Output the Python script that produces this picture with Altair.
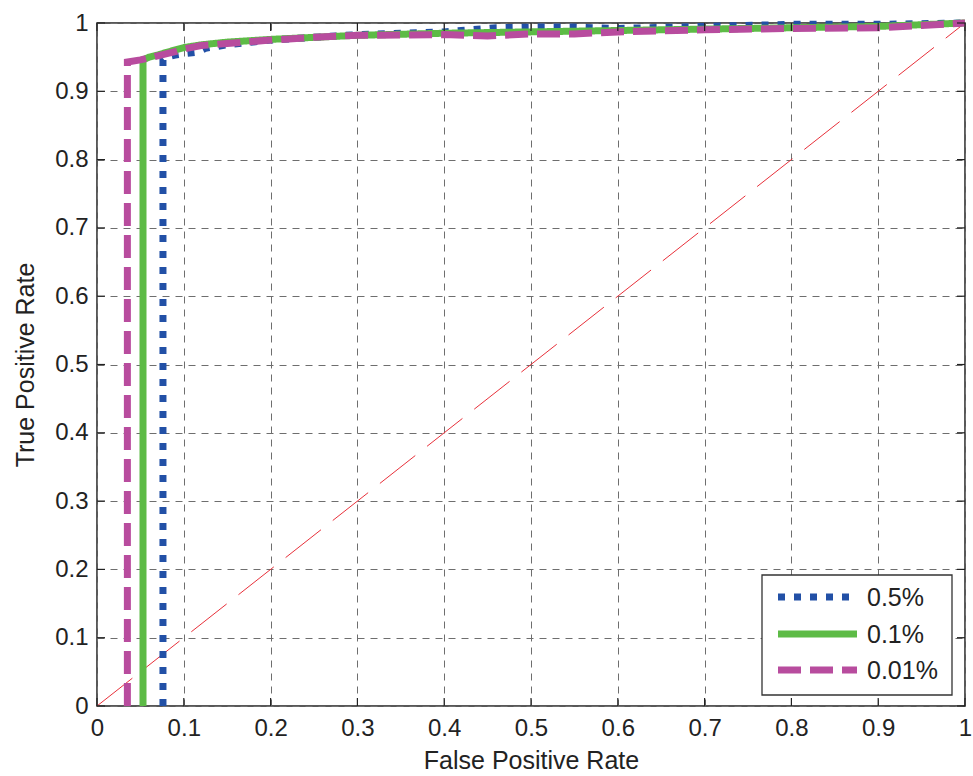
import altair as alt
import pandas as pd

# ---- data ----
series_names = ["0.5%", "0.1%", "0.01%"]
colors = ["#2250a6", "#5dbb46", "#b84c9e"]
dashes = [[7, 9], [1, 0], [23, 9]]

fpr_05 = [0.076, 0.076, 0.08, 0.09, 0.10, 0.115, 0.125, 0.15, 0.20, 0.25, 0.30, 0.40, 0.46, 0.50, 0.55, 0.60, 0.70, 0.80, 0.90, 1.00]
tpr_05 = [0.000, 0.946, 0.950, 0.953, 0.955, 0.957, 0.963, 0.968, 0.975, 0.979, 0.983, 0.987, 0.993, 0.994, 0.994, 0.992, 0.995, 0.998, 0.998, 1.000]

fpr_01 = [0.053, 0.053, 0.06, 0.07, 0.08, 0.10, 0.12, 0.15, 0.20, 0.25, 0.30, 0.40, 0.50, 0.60, 0.70, 0.80, 0.90, 1.00]
tpr_01 = [0.000, 0.946, 0.950, 0.953, 0.957, 0.964, 0.968, 0.972, 0.976, 0.979, 0.982, 0.985, 0.987, 0.989, 0.991, 0.993, 0.995, 1.000]

fpr_001 = [0.035, 0.035, 0.05, 0.07, 0.09, 0.10, 0.12, 0.15, 0.20, 0.25, 0.30, 0.40, 0.45, 0.50, 0.55, 0.60, 0.70, 0.80, 0.90, 1.00]
tpr_001 = [0.000, 0.943, 0.946, 0.952, 0.958, 0.962, 0.967, 0.970, 0.975, 0.979, 0.982, 0.983, 0.981, 0.984, 0.984, 0.987, 0.990, 0.992, 0.993, 1.000]

diag_x = [0.0, 1.0]
diag_y = [0.0, 1.0]

tick_values = [0.0, 0.1, 0.2, 0.3, 0.4, 0.5, 0.6, 0.7, 0.8, 0.9, 1.0]

# ---- build tables ----
rows = []
for name, xs, ys in [("0.5%", fpr_05, tpr_05), ("0.1%", fpr_01, tpr_01), ("0.01%", fpr_001, tpr_001)]:
    for i, (a, b) in enumerate(zip(xs, ys)):
        rows.append({"series": name, "fpr": a, "tpr": b, "idx": i})
curves = pd.DataFrame(rows)
diag = pd.DataFrame({"fpr": diag_x, "tpr": diag_y})
ticks = pd.DataFrame({"v": tick_values})

W, H = 868, 683
TL = 8
FONT = "Liberation Sans"
TXT = "#222222"

xscale = alt.Scale(domain=[0, 1], nice=False, zero=False)
yscale = alt.Scale(domain=[0, 1], nice=False, zero=False)

x_axis = alt.Axis(values=tick_values, format="~g", grid=True, ticks=False, domain=False,
                  labelFlush=False, labelOverlap=False,
                  labelPadding=10, title="False Positive Rate", titlePadding=8,
                  labelFontSize=24, titleFontSize=25)
y_axis = alt.Axis(values=tick_values, format="~g", grid=True, ticks=False, domain=False,
                  labelFlush=False, labelOverlap=False,
                  labelPadding=9, title="True Positive Rate", titlePadding=16,
                  labelFontSize=24, titleFontSize=25)

diag_line = alt.Chart(diag).mark_line(strokeWidth=1, color="#e8303a", strokeDash=[45, 15]).encode(
    x=alt.X("fpr:Q", scale=xscale, axis=x_axis),
    y=alt.Y("tpr:Q", scale=yscale, axis=y_axis),
)

lines = alt.Chart(curves).mark_line(strokeWidth=7, clip=False, strokeCap="butt").encode(
    x=alt.X("fpr:Q", scale=xscale),
    y=alt.Y("tpr:Q", scale=yscale),
    color=alt.Color("series:N", scale=alt.Scale(domain=series_names, range=colors), legend=None),
    strokeDash=alt.StrokeDash("series:N", scale=alt.Scale(domain=series_names, range=dashes), legend=None),
    detail="series:N",
    order=alt.Order("idx:Q"),
)

tick_style = dict(color=TXT, strokeWidth=1.2)
bottom_ticks = alt.Chart(ticks).mark_rule(**tick_style).encode(
    x=alt.X("v:Q", scale=xscale), y=alt.value(H), y2=alt.value(H - TL))
top_ticks = alt.Chart(ticks).mark_rule(**tick_style).encode(
    x=alt.X("v:Q", scale=xscale), y=alt.value(0), y2=alt.value(TL))
left_ticks = alt.Chart(ticks).mark_rule(**tick_style).encode(
    y=alt.Y("v:Q", scale=yscale), x=alt.value(0), x2=alt.value(TL))
right_ticks = alt.Chart(ticks).mark_rule(**tick_style).encode(
    y=alt.Y("v:Q", scale=yscale), x=alt.value(W), x2=alt.value(W - TL))

# ---- legend (drawn as marks, placed in pixels) ----
LX0, LX1, LY0, LY1 = 665, 855, 552, 672
SYM_X0, SYM_X1, LABEL_X = 681, 760, 770
ROW_Y = [574, 611, 647]

legend_layers = [
    alt.Chart(ticks.head(1)).mark_rect(fill="white", stroke="#333333", strokeWidth=1.3).encode(
        x=alt.value(LX0), x2=alt.value(LX1), y=alt.value(LY0), y2=alt.value(LY1))
]
for name, col, dsh, ry in zip(series_names, colors, dashes, ROW_Y):
    one = pd.DataFrame({"series": [name]})
    legend_layers.append(
        alt.Chart(one).mark_rule(color=col, strokeDash=dsh, strokeWidth=7, strokeCap="butt").encode(
            x=alt.value(SYM_X0), x2=alt.value(SYM_X1), y=alt.value(ry)))
    legend_layers.append(
        alt.Chart(one).mark_text(align="left", baseline="middle", font=FONT, fontSize=25, color=TXT, dy=1).encode(
            x=alt.value(LABEL_X), y=alt.value(ry), text="series:N"))

chart = alt.layer(
    diag_line,
    lines,
    bottom_ticks, top_ticks, left_ticks, right_ticks,
    *legend_layers,
).properties(
    width=W, height=H,
    autosize=alt.AutoSizeParams(type="none"),
    padding={"left": 97, "top": 23, "right": 8, "bottom": 70},
).configure(
    font=FONT,
    background="white",
).configure_view(
    stroke=TXT, strokeWidth=1.5,
).configure_axis(
    labelFont=FONT, labelColor=TXT,
    titleFont=FONT, titleFontWeight="normal", titleColor=TXT,
    gridColor="#6e6e6e", gridDash=[7, 6], gridWidth=1, gridOpacity=1,
)

chart.save("out.html", embed_options={"renderer": "svg", "actions": False})
